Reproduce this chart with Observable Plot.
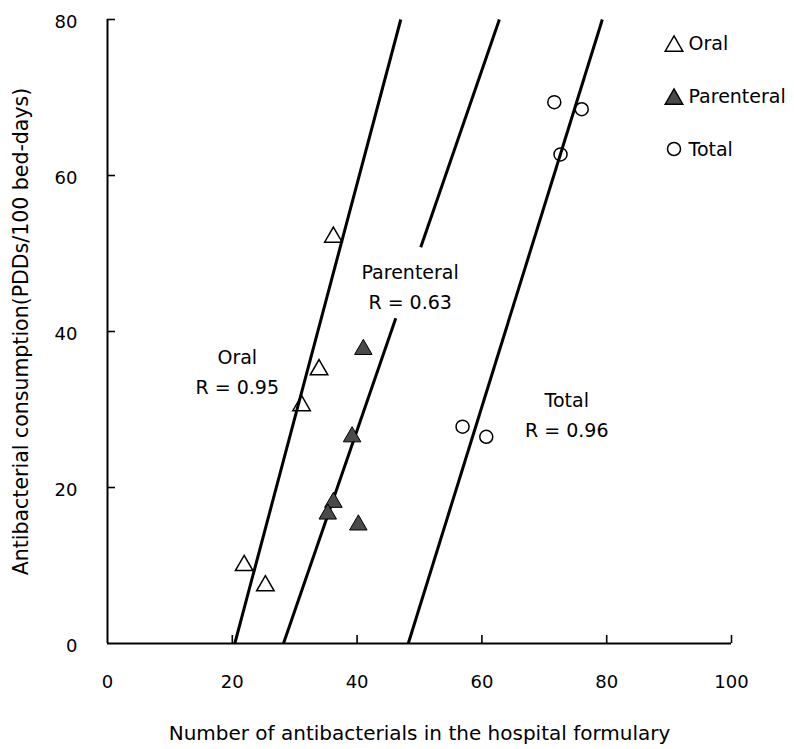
<!DOCTYPE html>
<html>
<head>
<meta charset="utf-8">
<script src="https://cdn.jsdelivr.net/npm/d3@7"></script>
<script src="https://cdn.jsdelivr.net/npm/@observablehq/plot@0.6"></script>
<style>
  html, body { margin: 0; padding: 0; background: #fff; }
  #chart svg { display: block; }
</style>
</head>
<body>
<div id="chart"></div>
<script>
// ---- data ----
const oralX = [36.2, 33.9, 31.1, 21.9, 25.3];
const oralY = [52.1, 35.1, 30.5, 10.0, 7.4];
const parenteralX = [41.0, 39.2, 36.2, 35.3, 40.2];
const parenteralY = [37.7, 26.5, 18.1, 16.6, 15.2];
const totalX = [71.6, 76.0, 72.6, 56.9, 60.7];
const totalY = [69.4, 68.5, 62.7, 27.8, 26.5];

// regression lines (segments, endpoints)
const fitSeries = ["Oral", "Parenteral", "Parenteral", "Total"];
const fitX1 = [20.4, 28.2, 50.2, 48.2];
const fitY1 = [0, 0, 50.8, 0];
const fitX2 = [47.0, 46.2, 62.8, 79.3];
const fitY2 = [80, 41.7, 80, 80];

// annotations
const annoText = ["Oral\nR = 0.95", "Parenteral\nR = 0.63", "Total\nR = 0.96"];
const annoX = [20.8, 48.5, 73.6];
const annoY = [35.1, 46.1, 29.6];

const legendLabels = ["Oral", "Parenteral", "Total"];
const xTicks = [0, 20, 40, 60, 80, 100];
const yTicks = [0, 20, 40, 60, 80];
const xTitle = "Number of antibacterials in the hospital formulary";
const yTitle = "Antibacterial consumption(PDDs/100 bed-days)";

// ---- build tables ----
const pts = (xs, ys) => xs.map((x, i) => ({x, y: ys[i]}));
const oral = pts(oralX, oralY);
const parenteral = pts(parenteralX, parenteralY);
const total = pts(totalX, totalY);
const fits = fitSeries.map((s, i) => ({s, x1: fitX1[i], y1: fitY1[i], x2: fitX2[i], y2: fitY2[i]}));
const annos = annoText.map((t, i) => ({t, x: annoX[i], y: annoY[i]}));

const FONT = "DejaVu Sans, Verdana, sans-serif";
const W = 794, H = 749;
const mL = 107, mR = 63, mT = 19, mB = 106;

// legend styling
const legendStyles = [
  {symbol: "triangle", fill: "none", stroke: "black", dy: 26.6},
  {symbol: "triangle", fill: "#4a4a4a", stroke: "black", dy: 79.6},
  {symbol: "circle", fill: "none", stroke: "black", dy: 129.5}
];
const legendTextDy = [24, 77, 130];

const legendMarks = [];
legendLabels.forEach((lab, i) => {
  const st = legendStyles[i];
  legendMarks.push(Plot.dot([lab], {
    frameAnchor: "top-left", dx: 566.5, dy: st.dy,
    symbol: st.symbol, r: 6.5, fill: st.fill, stroke: st.stroke, strokeWidth: 1.5
  }));
  legendMarks.push(Plot.text([lab], {
    frameAnchor: "top-left", dx: 581, dy: legendTextDy[i],
    text: d => d, textAnchor: "start", lineAnchor: "middle",
    fontSize: 19, fill: "black"
  }));
});

const chart = Plot.plot({
  width: W,
  height: H,
  marginLeft: mL,
  marginRight: mR,
  marginTop: mT,
  marginBottom: mB,
  style: {fontFamily: FONT, fontSize: "18px", background: "white", color: "black", overflow: "visible"},
  x: {domain: [0, 100], axis: null},
  y: {domain: [0, 80], axis: null},
  marks: [
    // axis lines and inward ticks
    Plot.ruleX([0], {stroke: "black", strokeWidth: 2}),
    Plot.ruleY([0], {stroke: "black", strokeWidth: 2}),
    Plot.ruleX(xTicks.slice(1), {x: d => d, y1: 0, y2: 0, insetTop: -8, stroke: "black", strokeWidth: 1.6}),
    Plot.ruleY(yTicks.slice(1), {y: d => d, x1: 0, x2: 0, insetRight: -8, stroke: "black", strokeWidth: 1.6}),
    // tick labels
    Plot.text(xTicks, {x: d => d, frameAnchor: "bottom", dy: 39, text: d => String(d), fontSize: 18, textAnchor: "middle", lineAnchor: "middle", fill: "black"}),
    Plot.text(yTicks, {y: d => d, frameAnchor: "left", dx: -30, dy: 3, text: d => String(d), fontSize: 18, textAnchor: "end", lineAnchor: "middle", fill: "black"}),
    // axis titles
    Plot.text([xTitle], {frameAnchor: "bottom", dy: 90, text: d => d, fontSize: 20, textAnchor: "middle", lineAnchor: "middle", fill: "black"}),
    Plot.text([yTitle], {frameAnchor: "left", dx: -86, rotate: -90, text: d => d, fontSize: 20.5, textAnchor: "middle", lineAnchor: "middle", fill: "black"}),
    // regression lines
    Plot.link(fits, {x1: "x1", y1: "y1", x2: "x2", y2: "y2", stroke: "black", strokeWidth: 3}),
    // points
    Plot.dot(oral, {x: "x", y: "y", symbol: "triangle", r: 6.5, fill: "none", stroke: "black", strokeWidth: 1.5}),
    Plot.dot(parenteral, {x: "x", y: "y", symbol: "triangle", r: 6.5, fill: "#4a4a4a", stroke: "black", strokeWidth: 1}),
    Plot.dot(total, {x: "x", y: "y", symbol: "circle", r: 6.5, fill: "none", stroke: "black", strokeWidth: 1.5}),
    // annotations
    Plot.text(annos, {x: "x", y: "y", text: "t", fontSize: 19, lineHeight: 1.58, lineAnchor: "middle", textAnchor: "middle", fill: "black"}),
    ...legendMarks
  ]
});

document.getElementById("chart").appendChild(chart);
</script>
</body>
</html>
